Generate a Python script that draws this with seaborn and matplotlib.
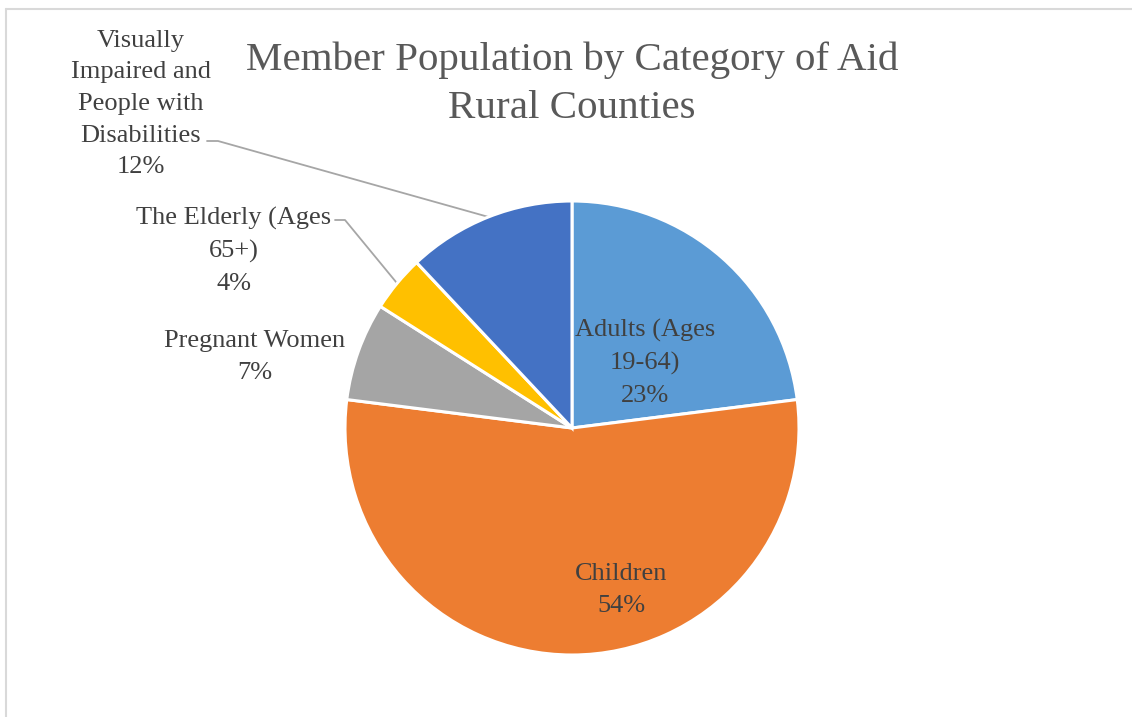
"""Pie chart of member population by category of aid, rural counties."""
import numpy as np
import matplotlib.pyplot as plt
from matplotlib.lines import Line2D
import seaborn as sns

CATEGORIES = ["Adults (Ages\n19-64)", "Children", "Pregnant Women",
              "The Elderly (Ages\n65+)", "Visually\nImpaired and\nPeople with\nDisabilities"]
SHARES = [23, 54, 7, 4, 12]
COLORS = ["#5B9BD5", "#ED7D31", "#A5A5A5", "#FFC000", "#4472C4"]
TITLE = "Member Population by Category of Aid\nRural Counties"

W, H = 1132, 717
CX, CY, R = 572, 428, 227


def to_data(px, py):
    """Reference pixel position -> pie data coordinates (radius 1)."""
    return (px - CX) / R, (CY - py) / R


sns.set_theme(style="white")
plt.rcParams['font.family'] = ['Liberation Serif', 'DejaVu Serif']
TEXT = "#404040"

fig = plt.figure(figsize=(W / 100, H / 100), dpi=100)
ax = fig.add_axes([(CX - R) / W, (H - CY - R) / H, 2 * R / W, 2 * R / H])
wedges, _ = ax.pie(SHARES, colors=COLORS, startangle=90, counterclock=False,
                   radius=1, wedgeprops=dict(edgecolor="white", linewidth=2.2))
ax.set_xlim(-1, 1)
ax.set_ylim(-1, 1)
ax.axis("off")

label_pos = [(645, 363), (621, 590), (255, 357), (234, 251), (141, 104)]
label_fs = 19
for name, share, (px, py) in zip(CATEGORIES, SHARES, label_pos):
    x, y = to_data(px, py)
    ax.text(x, y, f"{name}\n{share}%", ha="center", va="center", fontsize=label_fs,
            color=TEXT, linespacing=1.57, clip_on=False)

# leader lines for the outside labels
leaders = {3: [(335, 220), (345, 220)], 4: [(207, 141), (218, 141)]}
for idx, pts in leaders.items():
    w = wedges[idx]
    mid = np.deg2rad((w.theta1 + w.theta2) / 2)
    xs = [to_data(*p)[0] for p in pts] + [np.cos(mid)]
    ys = [to_data(*p)[1] for p in pts] + [np.sin(mid)]
    ax.plot(xs, ys, color="#A6A6A6", lw=1.3, clip_on=False, zorder=0)

fig.text(CX / W, 1 - 84 / H, TITLE, ha="center", va="center", fontsize=29.5,
         color="#595959", linespacing=1.39)

# chart area frame (only top and left edges are visible)
fig.add_artist(Line2D([6 / W, 6 / W], [0, 1 - 9 / H], color="#D9D9D9", lw=1.5))
fig.add_artist(Line2D([6 / W, 1], [1 - 9 / H, 1 - 9 / H], color="#D9D9D9", lw=1.5))

fig.savefig("out.png", dpi=100, facecolor="white")
